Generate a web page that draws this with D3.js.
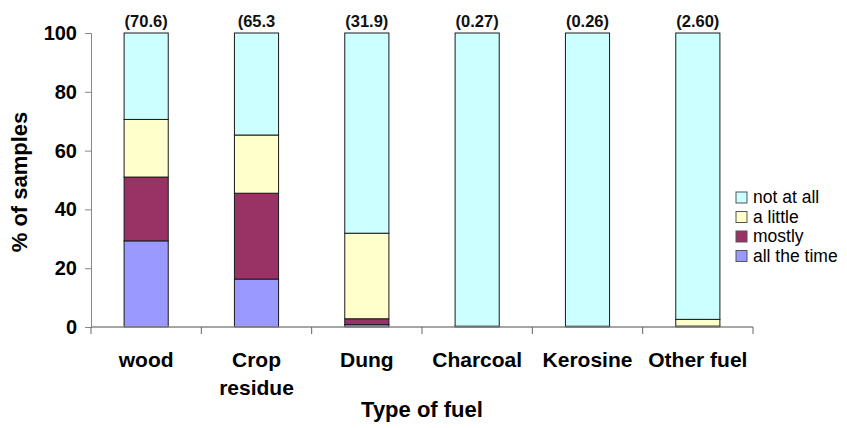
<!DOCTYPE html>
<html>
<head>
<meta charset="utf-8">
<script src="https://cdn.jsdelivr.net/npm/d3@7"></script>
<style>
  body { margin: 0; background: #fff; }
  svg { font-family: "Liberation Sans", Arial, sans-serif; }
</style>
</head>
<body>
<svg id="chart"></svg>
<script>
// data
const fuels = ["wood", "Crop residue", "Dung", "Charcoal", "Kerosine", "Other fuel"];
const topLabels = ["(70.6)", "(65.3", "(31.9)", "(0.27)", "(0.26)", "(2.60)"];
const seriesNames = ["all the time", "mostly", "a little", "not at all"];
const allTheTime = [29.3, 16.3, 0.8, 0, 0, 0];
const mostly = [21.7, 29.2, 2.0, 0.1, 0.1, 0.3];
const aLittle = [19.6, 19.8, 29.1, 0.17, 0.16, 2.3];
const notAtAll = [29.4, 34.7, 68.1, 99.73, 99.74, 97.4];
const seriesColors = ["#9999ff", "#993366", "#ffffcc", "#ccffff"];
const yTicks = [0, 20, 40, 60, 80, 100];

const width = 847, height = 428;
const margin = {top: 33, right: 94, bottom: 101, left: 91};

const svg = d3.select("#chart").attr("width", width).attr("height", height);
const chart = svg.append("g").attr("transform", `translate(${margin.left}, ${margin.top})`);
const innerW = width - margin.left - margin.right;
const innerH = height - margin.top - margin.bottom;

const rows = fuels.map((f, i) => ({
  fuel: f,
  "all the time": allTheTime[i],
  "mostly": mostly[i],
  "a little": aLittle[i],
  "not at all": notAtAll[i]
}));
const stacked = d3.stack().keys(seriesNames)(rows);

const xscale = d3.scaleBand().domain(fuels).range([0, innerW]).paddingInner(0.6).paddingOuter(0.3);
const yscale = d3.scaleLinear().domain([0, 100]).range([innerH, 0]);
const color = d3.scaleOrdinal().domain(seriesNames).range(seriesColors);

// bars
chart.selectAll("g.series")
  .data(stacked)
  .join("g")
  .attr("class", "series")
  .attr("fill", d => color(d.key))
  .selectAll("rect")
  .data(d => d)
  .join("rect")
  .attr("x", d => xscale(d.data.fuel))
  .attr("width", xscale.bandwidth())
  .attr("y", d => yscale(d[1]))
  .attr("height", d => yscale(d[0]) - yscale(d[1]))
  .attr("stroke", "#1a1a1a")
  .attr("stroke-width", 1);

// y axis
const yaxis = d3.axisLeft(yscale).tickValues(yTicks).tickSize(6).tickPadding(8);
const yg = chart.append("g").call(yaxis);
yg.select(".domain").attr("stroke", "#888");
yg.selectAll(".tick line").attr("stroke", "#888");
yg.selectAll(".tick text")
  .attr("font-size", "20px").attr("font-weight", "bold").attr("fill", "#000")
  .attr("font-family", "Liberation Sans, Arial, sans-serif");

// x axis line and ticks at band boundaries
const step = xscale.step();
const xg = chart.append("g").attr("transform", `translate(0, ${innerH})`);
xg.append("line").attr("x1", 0).attr("x2", innerW).attr("stroke", "#888").attr("stroke-width", 1.5);
xg.selectAll("line.tk")
  .data(d3.range(fuels.length + 1))
  .join("line")
  .attr("class", "tk")
  .attr("x1", i => i * step).attr("x2", i => i * step)
  .attr("y1", 0).attr("y2", 7)
  .attr("stroke", "#666");

// category labels
xg.selectAll("text.cat")
  .data(fuels)
  .join("text")
  .attr("class", "cat")
  .attr("text-anchor", "middle")
  .attr("font-size", "21px").attr("font-weight", "bold")
  .attr("transform", d => `translate(${xscale(d) + xscale.bandwidth() / 2}, 40)`)
  .each(function(d) {
    const words = d === "Crop residue" ? ["Crop", "residue"] : [d];
    d3.select(this).selectAll("tspan").data(words).join("tspan")
      .attr("x", 0).attr("dy", (w, i) => i === 0 ? 0 : 28).text(w => w);
  });

// totals above bars
chart.selectAll("text.total")
  .data(fuels)
  .join("text")
  .attr("class", "total")
  .attr("x", d => xscale(d) + xscale.bandwidth() / 2)
  .attr("y", -6)
  .attr("text-anchor", "middle")
  .attr("font-size", "16.5px")
  .attr("font-weight", "bold")
  .attr("fill", "#111")
  .text((d, i) => topLabels[i]);

// axis titles
svg.append("text")
  .attr("x", margin.left + innerW / 2).attr("y", 417)
  .attr("text-anchor", "middle")
  .attr("font-size", "22px").attr("font-weight", "bold")
  .text("Type of fuel");

svg.append("text")
  .attr("transform", "translate(27, 182) rotate(-90)")
  .attr("text-anchor", "middle")
  .attr("font-size", "22px").attr("font-weight", "bold")
  .text("% of samples");

// legend
const legend = svg.append("g").attr("transform", "translate(736, 192)");
const legendItems = seriesNames.slice().reverse();
const li = legend.selectAll("g").data(legendItems).join("g")
  .attr("transform", (d, i) => `translate(0, ${i * 19.5})`);
li.append("rect").attr("width", 11).attr("height", 11)
  .attr("fill", d => color(d)).attr("stroke", "#555");
li.append("text").attr("x", 17).attr("y", 11)
  .attr("font-size", "17.5px").attr("fill", "#000")
  .text(d => d);
</script>
</body>
</html>
